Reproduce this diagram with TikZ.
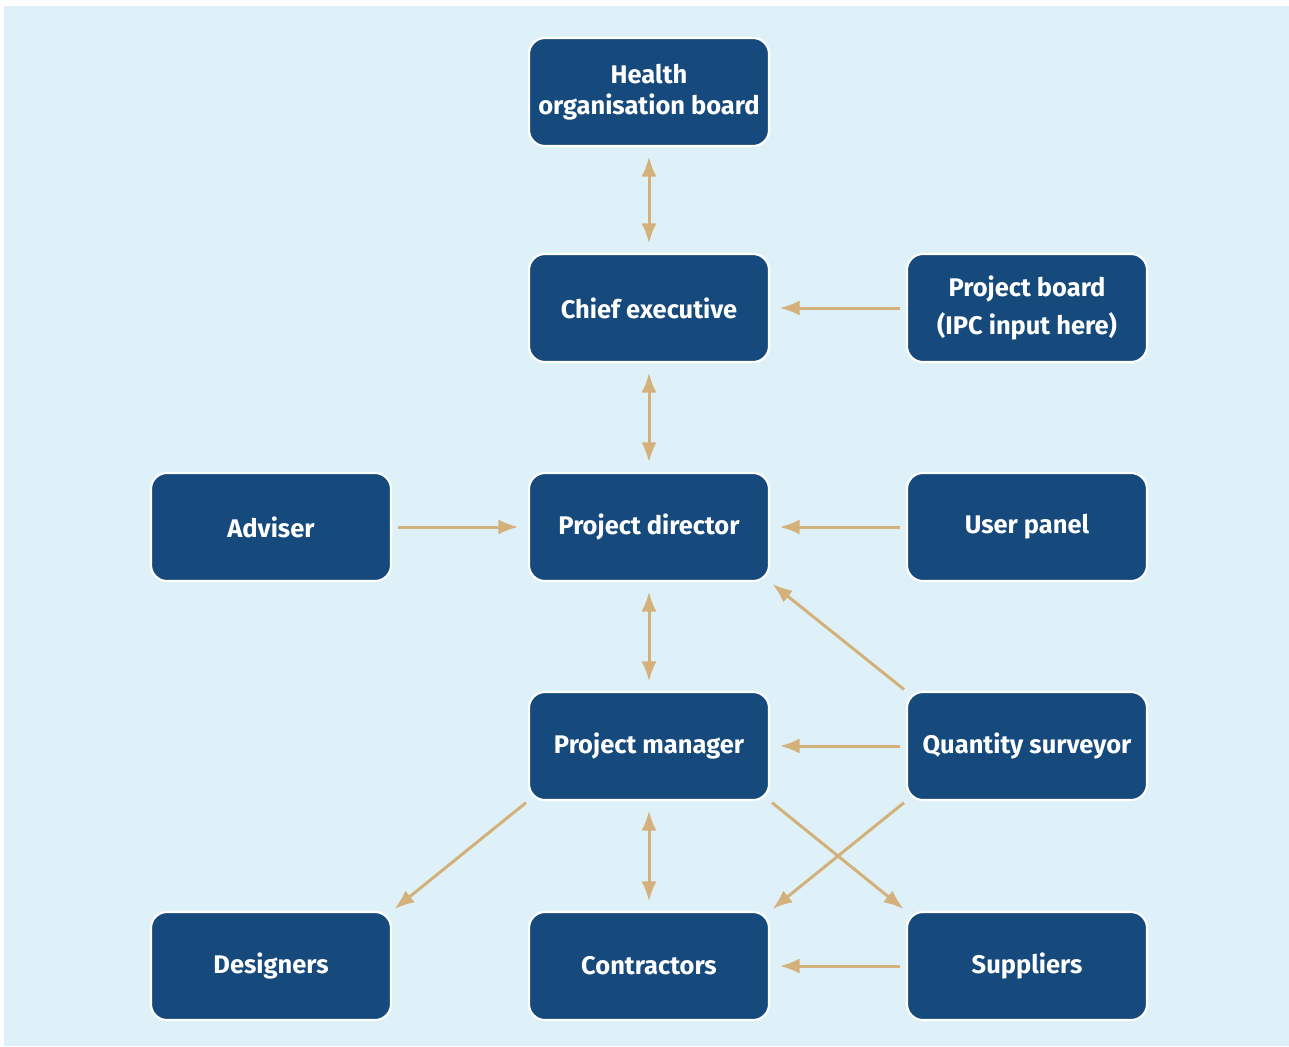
\documentclass[tikz,border=0pt]{standalone}
\usepackage{fontspec}
\setmainfont{Fira Sans}
\usetikzlibrary{arrows.meta}
\definecolor{boxblue}{RGB}{23,74,124}
\definecolor{bgblue}{RGB}{222,241,249}
\definecolor{tan}{RGB}{212,177,122}
\begin{document}
\begin{tikzpicture}[
    rolebox/.style={draw=white, line width=1.2pt, fill=boxblue, rounded corners=0.32cm,
      minimum width=4.8cm, minimum height=2.16cm, text=white, align=center,
      font=\fontsize{14.5}{18}\selectfont\bfseries},
    link/.style={draw=tan, line width=1.7pt, -{Latex[length=0.4cm,width=0.3cm]},
      shorten >=0.19cm, shorten <=0.12cm},
    twoway/.style={link, {Latex[length=0.4cm,width=0.3cm]}-{Latex[length=0.4cm,width=0.3cm]},
      shorten <=0.19cm},
    slant/.style={link, shorten >=0.06cm, shorten <=0.05cm}]
    \useasboundingbox (0,0) rectangle (25.78,-20.92);
    \fill[bgblue] (0.08,-0.12) rectangle (25.78,-20.92);
    \node[rolebox] (board) at (12.98,-1.84) {Health\\organisation board};
    \node[rolebox] (chief) at (12.98,-6.16) {Chief executive};
    \node[rolebox] (pboard) at (20.54,-6.16) {Project board\\[4pt](IPC input here)};
    \node[rolebox] (adviser) at (5.42,-10.54) {Adviser};
    \node[rolebox] (director) at (12.98,-10.54) {Project director};
    \node[rolebox] (users) at (20.54,-10.54) {User panel};
    \node[rolebox] (manager) at (12.98,-14.92) {Project manager};
    \node[rolebox] (qs) at (20.54,-14.92) {Quantity surveyor};
    \node[rolebox] (designers) at (5.42,-19.32) {Designers};
    \node[rolebox] (contractors) at (12.98,-19.32) {Contractors};
    \node[rolebox] (suppliers) at (20.54,-19.32) {Suppliers};
    % vertical lines
    \draw[twoway] (board) -- (chief);
    \draw[twoway] (chief) -- (director);
    \draw[twoway] (director) -- (manager);
    \draw[twoway] (manager) -- (contractors);
    % horizontal lines
    \draw[link] (pboard) -- (chief);
    \draw[link] (adviser) -- (director);
    \draw[link] (users) -- (director);
    \draw[link] (qs) -- (manager);
    \draw[link] (suppliers) -- (contractors);
    % diagonal lines
    \draw[slant] (qs.north west) -- (director.south east);
    \draw[slant] (manager.south west) -- (designers.north east);
    \draw[slant] (manager.south east) -- (suppliers.north west);
    \draw[slant] (qs.south west) -- (contractors.north east);
\end{tikzpicture}
\end{document}
